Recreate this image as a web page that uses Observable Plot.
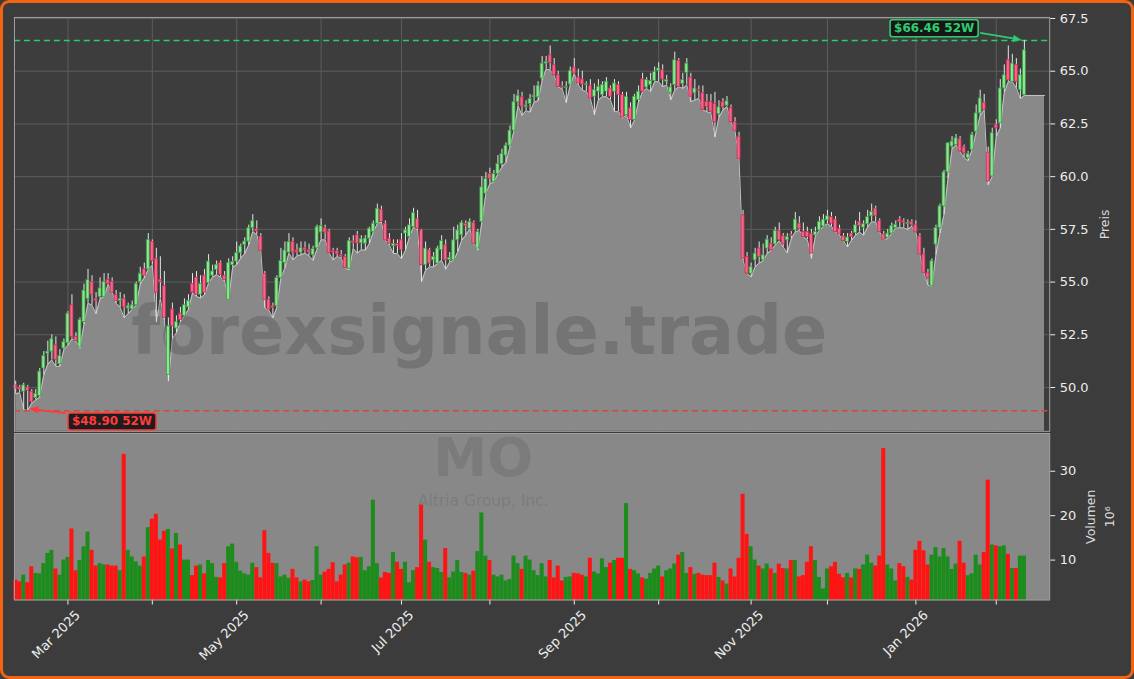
<!DOCTYPE html>
<html>
<head>
<meta charset="utf-8">
<script src="https://cdn.jsdelivr.net/npm/d3@7"></script>
<script src="https://cdn.jsdelivr.net/npm/@observablehq/plot@0.6"></script>
<style>
html,body{margin:0;padding:0;background:#3c3c3c;}
#frame{position:relative;width:1134px;height:679px;box-sizing:border-box;border:3px solid #f06412;border-radius:9px;background:#3c3c3c;overflow:hidden;font-family:"DejaVu Sans",sans-serif;}
#price,#volume{position:absolute;left:-3px;}
#price{top:-3px;}
#volume{top:430px;}
</style>
</head>
<body>
<div id="frame"><div id="price"></div><div id="volume"></div></div>
<script>
// ---- data (trading-day index 0 = 11 Feb 2025) ----
const opens = [
50.1,50.0,49.8,50.0,49.8,49.5,49.6,50.9,51.6,51.7,
52.0,51.1,51.85,52.1,53.9,52.4,51.9,53.1,54.2,55.0,
54.2,54.3,54.3,55.1,55.0,54.4,54.1,54.2,53.75,53.7,
53.9,55.0,55.6,55.6,56.9,56.1,55.1,54.8,50.6,53.7,
52.8,53.5,53.4,53.8,54.9,55.2,54.4,55.3,54.95,55.3,
55.58,55.9,55.3,54.16,55.8,55.97,56.37,56.76,56.92,57.55,
57.5,57.16,55.39,54.16,53.85,53.85,55.2,55.9,56.4,56.9,
56.5,56.4,56.6,56.5,56.29,56.6,57.35,57.55,57.4,56.48,
56.45,56.29,56.18,55.63,56.92,57.22,56.84,56.82,57.06,57.37,
57.77,58.43,57.77,57.06,56.7,56.8,56.98,57.3,57.14,57.61,
58.0,57.45,55.8,56.51,56.03,55.88,56.51,56.74,56.05,56.03,
56.98,57.22,57.75,57.53,57.8,56.59,57.85,59.19,60.13,59.74,
60.13,60.6,61.0,61.47,62.18,63.53,63.76,63.3,63.45,63.76,
63.76,64.65,65.36,65.75,65.28,64.81,64.28,64.21,64.37,65.17,
64.7,64.61,64.35,64.29,63.79,64.03,63.87,64.03,64.18,64.03,
64.34,63.87,62.92,63.24,62.69,63.63,64.61,64.23,64.34,64.54,
65.02,65.05,64.5,63.98,64.34,65.49,64.39,64.92,64.7,63.95,
64.12,63.95,63.55,63.55,63.45,62.97,63.53,63.37,63.26,62.58,
61.9,58.16,56.19,55.4,56.03,56.59,56.03,56.59,56.82,56.79,
57.42,57.17,56.98,57.24,57.45,57.77,57.37,57.37,57.29,57.22,
57.45,57.64,57.93,58.08,57.96,57.53,57.17,56.9,57.29,57.33,
57.85,57.58,57.74,58.12,58.48,57.9,57.26,57.1,57.3,57.57,
57.96,57.88,57.75,57.85,57.72,57.17,56.31,55.44,54.81,56.78,
57.57,58.59,60.2,61.43,61.5,61.77,61.39,60.87,61.27,62.13,
63.0,63.5,61.14,60.01,62.45,62.53,64.18,65.52,64.5,65.3,
64.1,63.87];
const closes = [
49.95,49.9,50.1,49.85,49.3,49.7,50.75,51.5,51.7,52.3,
51.3,51.5,52.15,53.5,52.4,52.2,53.2,54.6,55.1,54.4,
54.1,54.7,55.0,54.9,54.5,54.1,54.2,53.8,53.85,53.9,
54.9,55.4,55.3,57.0,56.0,54.5,55.0,53.3,52.9,52.9,
53.1,53.2,53.9,54.1,54.5,54.4,54.9,54.5,55.97,55.5,
55.82,55.35,55.1,55.9,55.95,56.37,56.69,56.92,57.55,57.9,
57.4,56.48,54.16,53.69,53.77,55.19,56.0,56.5,56.9,56.4,
56.4,56.6,56.5,56.4,56.56,57.6,57.66,57.35,56.37,56.4,
56.32,56.21,55.66,56.95,56.84,56.84,57.03,57.06,57.53,57.77,
58.48,57.85,56.98,56.82,56.8,56.7,56.51,57.45,57.69,58.27,
57.53,55.8,56.59,55.88,56.19,56.59,56.95,56.03,56.15,56.98,
57.45,57.8,57.65,57.85,56.82,57.37,59.5,59.9,59.9,60.13,
60.6,61.08,61.47,62.18,63.53,63.84,63.32,63.37,63.68,63.84,
64.31,65.36,65.44,65.39,64.81,64.26,64.24,64.25,65.02,64.89,
64.42,64.37,64.38,63.71,64.1,64.26,64.34,64.5,63.79,64.42,
63.87,62.8,63.79,62.69,63.79,64.03,64.03,64.58,64.54,64.97,
65.13,64.61,64.58,64.23,65.52,64.26,64.58,65.36,63.79,64.18,
64.08,63.16,63.3,63.08,62.58,63.29,63.29,63.57,62.58,62.18,
60.84,56.11,55.4,55.72,56.35,56.19,56.27,57.01,56.51,57.42,
56.98,56.79,57.14,57.2,57.96,57.53,57.14,57.14,56.35,57.37,
57.85,57.96,58.12,57.77,57.37,57.26,56.95,57.11,57.14,57.69,
57.66,57.74,58.08,58.32,58.12,57.37,57.01,57.3,57.65,57.72,
57.85,57.8,57.8,57.72,57.36,56.31,55.44,55.2,55.99,57.57,
58.59,60.2,61.58,61.66,61.82,61.19,61.11,61.08,61.98,63.0,
63.71,63.16,59.77,62.06,62.29,64.18,64.81,64.57,65.36,64.5,
64.81,65.99];
const lows = [
49.7,49.75,48.95,48.9,49.25,49.4,49.55,50.6,51.1,51.3,
51.0,51.0,51.8,52.0,52.3,52.2,51.85,53.0,54.0,53.9,
53.5,54.2,54.3,54.9,54.5,54.0,53.8,53.3,53.5,53.7,
53.9,54.9,55.2,55.6,55.8,53.1,54.2,53.2,50.3,52.3,
52.6,53.1,53.4,53.7,54.48,54.32,54.24,54.4,54.95,55.23,
55.35,55.23,55.03,54.16,55.7,55.82,56.13,56.34,56.76,57.4,
57.24,56.45,53.77,53.66,53.3,53.8,55.2,55.66,56.37,56.05,
56.24,56.29,56.37,56.24,56.02,56.56,57.0,57.0,56.37,56.05,
56.21,56.13,55.66,55.58,56.6,56.37,56.53,56.51,56.82,57.37,
57.77,57.85,56.98,56.74,56.35,56.35,56.11,56.51,57.14,57.61,
57.45,55.01,55.56,55.72,55.72,55.88,56.03,55.6,55.95,56.03,
56.43,56.98,57.22,57.53,56.82,56.51,57.85,59.19,59.66,59.74,
60.13,60.45,60.68,61.4,62.18,63.37,62.9,63.13,63.05,63.53,
63.6,64.55,65.1,65.05,64.8,64.26,64.15,63.5,64.34,64.89,
64.34,64.1,64.03,63.71,62.92,63.63,63.79,63.79,63.63,63.08,
63.08,62.77,62.92,62.3,62.69,63.55,64.03,64.18,64.03,64.5,
64.5,64.26,64.34,63.63,64.1,64.26,64.18,64.34,63.55,63.63,
63.71,63.16,63.08,63.0,61.87,62.8,63.16,63.32,62.58,62.15,
60.8,56.03,55.4,55.24,55.72,55.9,56.0,56.35,56.51,56.74,
56.95,56.66,56.38,57.06,57.37,57.45,57.14,57.01,56.11,57.17,
57.45,57.64,57.77,57.64,57.37,57.22,56.95,56.66,56.98,57.22,
57.37,57.22,57.61,57.85,57.85,57.37,57.01,57.06,57.3,57.57,
57.57,57.57,57.49,57.65,57.36,56.31,55.44,54.85,54.81,56.3,
57.3,58.2,59.9,61.3,61.5,61.19,60.9,60.75,61.27,62.1,
62.9,63.16,59.6,60.0,61.9,62.3,64.0,64.5,64.5,64.2,
63.7,63.85];
const highs = [
50.3,50.1,50.2,50.1,49.9,49.9,50.9,51.7,52.2,52.5,
52.4,51.8,52.3,53.6,54.4,52.6,53.3,54.9,55.6,55.3,
54.5,55.2,55.4,55.4,55.2,54.6,54.5,54.4,54.0,54.1,
55.0,55.7,55.9,57.3,57.0,56.6,56.2,55.5,53.3,54.0,
53.4,53.8,54.2,54.4,55.4,55.5,55.3,55.6,56.3,55.8,
56.0,56.0,55.5,56.1,56.2,56.9,56.8,57.1,57.7,58.2,
57.9,57.3,55.5,54.3,54.0,55.3,56.6,56.9,57.3,57.1,
56.8,56.9,56.9,56.8,56.7,57.7,58.0,57.7,57.5,56.6,
56.6,56.5,56.3,57.1,57.2,57.4,57.2,57.2,57.6,57.9,
58.7,58.6,57.9,57.3,57.0,57.0,57.3,57.6,58.0,58.5,
58.4,57.5,56.9,56.6,56.4,56.7,57.2,57.0,56.4,57.6,
57.7,57.9,57.9,58.0,57.9,57.5,60.0,60.2,60.4,60.3,
61.0,61.3,61.6,62.4,63.9,64.1,64.0,63.6,63.9,64.3,
64.5,65.7,65.7,66.2,65.6,65.0,64.5,64.5,65.2,65.6,
65.1,65.0,64.5,64.6,64.4,64.6,64.5,64.7,64.3,64.6,
64.5,64.0,64.0,63.5,63.9,64.3,64.9,64.7,64.9,65.2,
65.4,65.3,64.8,64.4,65.9,65.6,64.9,65.6,64.9,64.6,
64.3,64.3,63.9,63.9,64.0,63.6,63.7,63.8,63.4,62.8,
62.1,58.4,56.4,55.9,56.6,56.9,56.8,57.2,57.1,57.6,
57.8,57.3,57.3,57.4,58.3,58.1,57.8,57.6,57.5,57.6,
58.1,58.2,58.4,58.3,58.1,57.7,57.3,57.3,57.4,57.9,
58.3,57.9,58.4,58.7,58.6,58.0,57.4,57.5,57.8,57.9,
58.1,58.0,57.95,57.95,57.9,57.3,56.6,55.6,56.1,57.7,
58.7,60.3,61.6,61.9,62.0,61.9,61.5,61.2,62.1,63.4,
64.1,63.9,61.4,62.3,62.7,64.6,65.3,66.2,65.8,65.6,
65.1,66.46];
const volumes = [ // millions of shares
5.5,5.1,6.6,4.9,8.5,7.0,6.9,9.2,11.5,12.2,
8.0,6.6,10.0,10.6,17.0,7.6,9.9,13.0,16.3,12.2,
8.65,9.2,8.9,8.9,8.65,8.65,7.6,33.8,12.2,10.7,
9.6,8.65,10.7,17.3,19.2,20.3,14.5,16.5,16.9,12.5,
16.0,13.4,10.0,10.0,6.5,8.65,8.9,6.9,9.9,9.2,
6.1,6.0,9.2,13.0,13.6,9.5,7.5,6.9,6.6,9.3,
8.3,6.0,16.6,11.5,9.3,9.2,6.2,6.6,5.9,7.9,
6.0,5.1,5.5,5.1,5.4,13.0,6.6,7.3,7.9,9.4,
5.1,6.6,8.9,9.3,10.7,10.5,10.6,7.6,8.5,23.5,
9.2,6.0,7.2,7.0,11.7,9.5,7.9,9.5,4.9,7.6,
8.3,22.4,14.5,9.5,8.3,8.1,7.2,12.6,6.0,7.3,
9.9,7.2,7.0,6.6,7.5,11.9,20.6,10.9,9.9,6.6,
6.2,6.6,5.3,5.6,10.9,9.2,7.9,10.9,10.0,7.6,
6.5,9.2,6.2,9.9,6.0,8.65,5.3,6.1,6.2,7.0,
6.9,6.6,6.2,10.4,7.3,6.9,10.3,8.3,9.3,9.9,
10.4,10.4,22.7,7.9,7.6,6.9,6.0,5.7,7.0,8.0,
8.65,6.2,7.6,8.0,9.1,11.1,11.7,7.0,8.3,6.8,
7.0,6.6,6.5,6.5,9.3,6.1,5.3,4.6,8.0,6.2,
10.4,24.8,15.8,13.0,10.0,8.65,8.0,9.1,8.0,7.0,
9.1,8.1,8.0,9.9,9.9,6.2,6.5,9.5,13.0,9.9,
6.1,3.5,8.0,8.5,9.5,6.8,6.0,7.0,6.0,8.0,
7.9,8.9,11.1,9.3,8.65,10.9,35.1,8.9,8.0,5.3,
9.2,8.5,6.1,5.5,12.2,14.2,12.1,8.9,11.1,12.8,
10.7,12.6,10.7,7.9,9.1,14.2,9.3,6.5,6.9,11.1,
8.9,11.7,28.0,13.4,13.2,13.0,13.2,11.3,8.1,8.1,
10.9,10.9];
// month ticks (trading-day index of first session of each month) and labels
const monthTicks  = [13, 34, 55, 76, 96, 118, 139, 160, 183, 202, 224, 244];
const monthLabels = ["Mar 2025","","May 2025","","Jul 2025","","Sep 2025","","Nov 2025","","Jan 2026",""];
const priceTicks = [50, 52.5, 55, 57.5, 60, 62.5, 65, 67.5];
const volumeTicks = [10, 20, 30];
const ticker = "MO";
const company = "Altria Group, Inc.";
const watermark = "forexsignale.trade";
const areaExtendIndex = 256;

// ---- build table ----
const n = closes.length;
const rows = d3.range(n).map(i => ({i, o: opens[i], c: closes[i], h: highs[i], l: lows[i], v: volumes[i], up: closes[i] >= opens[i]}));
const areaRows = rows.map(d => ({i: d.i, l: d.l})).concat([{i: areaExtendIndex, l: lows[n - 1]}]);
const hiVal = d3.max(highs), loVal = d3.min(lows);
const hiIdx = highs.indexOf(hiVal), loIdx = lows.indexOf(loVal);
const labelled = monthTicks.map((t, k) => ({t, label: monthLabels[k]})).filter(d => d.label);

const xDomain = [-0.3, 257.3];
const yDomain = [47.92, 67.55];
const vDomain = [1.0, 38.5];
const FONT = "'DejaVu Sans', sans-serif";
const up = {fill: "#92e492", stroke: "#35a045"};
const dn = {fill: "#f4668a", stroke: "#cc3057"};

const price = Plot.plot({
  width: 1134, height: 433,
  marginLeft: 14, marginRight: 82, marginTop: 17, marginBottom: 1,
  style: {background: "transparent", color: "#eeeeee", fontFamily: FONT, fontSize: "13px", overflow: "visible"},
  x: {domain: xDomain, axis: null},
  y: {domain: yDomain, axis: null},
  marks: [
    Plot.frame({fill: "#3d3d3d"}),
    Plot.gridX(monthTicks, {stroke: "#5c5c5c", strokeOpacity: 1}),
    Plot.gridY(priceTicks, {stroke: "#5c5c5c", strokeOpacity: 1}),
    Plot.areaY(areaRows, {x: "i", y1: yDomain[0], y2: "l", fill: "#898989"}),
    Plot.line(areaRows, {x: "i", y: "l", stroke: "#c4c4c4", strokeWidth: 1}),
    Plot.text([watermark], {text: d => d, frameAnchor: "middle", dx: -53, dy: 108, fontSize: 67, fontWeight: "bold", fill: "#4a4a4a", fillOpacity: 0.33}),
    Plot.ruleY([hiVal], {stroke: "#2ecc71", strokeWidth: 1.4, strokeDasharray: "6,4"}),
    Plot.ruleY([loVal], {stroke: "#d9443f", strokeWidth: 1.4, strokeDasharray: "6,4"}),
    Plot.ruleX(rows, {x: "i", y1: "l", y2: "h", stroke: "#e6e6e6", strokeWidth: 1}),
    Plot.rect(rows.filter(d => d.up), {x1: d => d.i - 0.37, x2: d => d.i + 0.37, y1: "o", y2: "c", fill: up.fill, stroke: up.stroke, strokeWidth: 0.8}),
    Plot.rect(rows.filter(d => !d.up), {x1: d => d.i - 0.37, x2: d => d.i + 0.37, y1: "o", y2: "c", fill: dn.fill, stroke: dn.stroke, strokeWidth: 0.8}),
    Plot.axisY({anchor: "right", ticks: priceTicks, tickFormat: d => d.toFixed(1), tickSize: 5, tickPadding: 5, label: null, fontSize: 13}),
    Plot.text(["Preis"], {text: d => d, frameAnchor: "right", textAnchor: "middle", dx: 55, rotate: -90, fontSize: 12.5, fill: "#dddddd"}),
    Plot.frame({stroke: "#a0a0a0", strokeWidth: 1})
  ]
});
document.getElementById("price").appendChild(price);

const volume = Plot.plot({
  width: 1134, height: 246,
  marginLeft: 14, marginRight: 82, marginTop: 0, marginBottom: 79,
  style: {background: "transparent", color: "#eeeeee", fontFamily: FONT, fontSize: "13px", overflow: "visible"},
  x: {domain: xDomain, axis: null},
  y: {domain: vDomain, axis: null},
  marks: [
    Plot.frame({fill: "#888888"}),
    Plot.text([ticker], {text: d => d, frameAnchor: "middle", textAnchor: "middle", dx: -49, dy: -58, fontSize: 54, fontWeight: "bold", fill: "#555555", fillOpacity: 0.25}),
    Plot.text([company], {text: d => d, frameAnchor: "middle", textAnchor: "middle", dx: -49, dy: -16, fontSize: 15.5, fill: "#555555", fillOpacity: 0.25}),
    Plot.rect(rows.filter(d => d.up), {x1: d => d.i - 0.5, x2: d => d.i + 0.5, y1: vDomain[0], y2: "v", fill: "#1c8c1c"}),
    Plot.rect(rows.filter(d => !d.up), {x1: d => d.i - 0.5, x2: d => d.i + 0.5, y1: vDomain[0], y2: "v", fill: "#ff1414"}),
    Plot.axisY({anchor: "right", ticks: volumeTicks, tickSize: 5, tickPadding: 5, label: null, fontSize: 13}),
    Plot.axisX({ticks: monthTicks, tickFormat: () => "", tickSize: 5, label: null}),
    Plot.text(labelled, {x: "t", text: "label", frameAnchor: "bottom", textAnchor: "end", lineAnchor: "middle", rotate: -45, dx: 10, dy: 13, fontSize: 13, fill: "#eeeeee"}),
    Plot.text(["Volumen"], {text: d => d, frameAnchor: "right", textAnchor: "middle", dx: 41, rotate: -90, fontSize: 12.5, fill: "#dddddd"}),
    Plot.text(["10⁶"], {text: d => d, frameAnchor: "right", textAnchor: "middle", dx: 60, rotate: -90, fontSize: 12.5, fill: "#dddddd"}),
    Plot.frame({stroke: "#a0a0a0", strokeWidth: 1})
  ]
});
document.getElementById("volume").appendChild(volume);

// ---- 52-week annotations, positioned through the plot's scales ----
function annotate(svgEl, idx, val, txt, color, dx, dy, side) {
  const sx = price.scale("x").apply(idx), sy = price.scale("y").apply(val);
  const g = d3.select(svgEl).append("g");
  const t = g.append("text").attr("x", sx + dx).attr("y", sy + dy).attr("dy", "0.36em")
    .attr("text-anchor", "middle").attr("font-family", FONT).attr("font-weight", "bold")
    .attr("font-size", 12).attr("fill", color).text(txt);
  const bb = t.node().getBBox();
  g.insert("rect", "text").attr("x", bb.x - 4).attr("y", bb.y - 1.5).attr("width", bb.width + 8).attr("height", bb.height + 3)
    .attr("rx", 2.5).attr("fill", "#121212").attr("fill-opacity", 0.9).attr("stroke", color).attr("stroke-width", 1.6);
  const ax = side === "right" ? bb.x + bb.width + 6 : bb.x - 6;
  const ay = side === "right" ? sy + dy + 5 : sy + dy - 8;
  const ex = side === "right" ? sx - 2 : sx + 2, ey = side === "right" ? sy : sy - 1.5;
  const ang = Math.atan2(ey - ay, ex - ax), L = 9, W = 3.5;
  const bx = ex - L * Math.cos(ang), by = ey - L * Math.sin(ang);
  g.append("line").attr("x1", ax).attr("y1", ay).attr("x2", bx).attr("y2", by).attr("stroke", color).attr("stroke-width", 1.8);
  g.append("path").attr("d", `M${ex},${ey}L${bx - W * Math.sin(ang)},${by + W * Math.cos(ang)}L${bx + W * Math.sin(ang)},${by - W * Math.cos(ang)}Z`).attr("fill", color);
}
annotate(price, hiIdx, hiVal, `$${hiVal.toFixed(2)} 52W`, "#2ecc71", -90, -12, "right");
annotate(price, loIdx, loVal, `$${loVal.toFixed(2)} 52W`, "#ff3b3b", 85, 11, "left");
</script>
</body>
</html>
